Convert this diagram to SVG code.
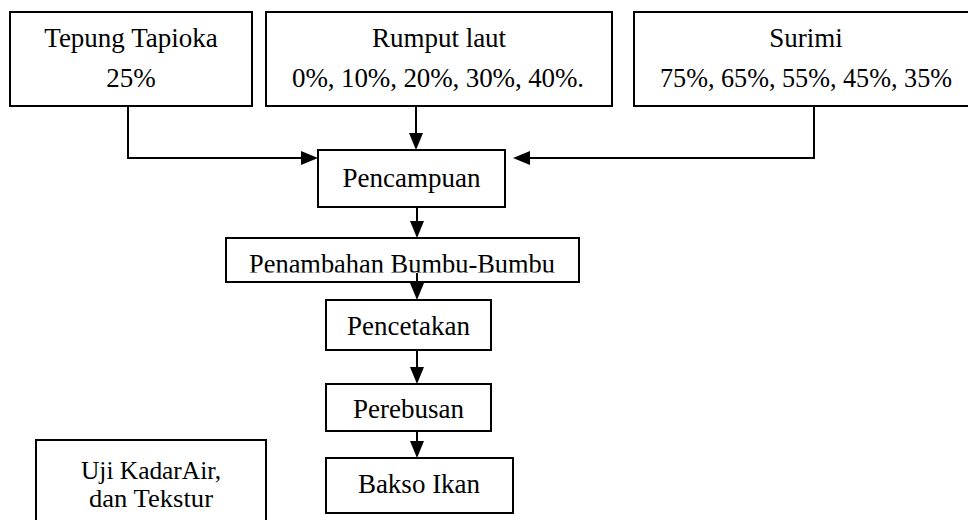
<svg xmlns="http://www.w3.org/2000/svg" width="968" height="520" viewBox="0 0 968 520">
<style>
.box{fill:#fff;stroke:#000;stroke-width:2}
.t{font-family:"Liberation Serif","Times New Roman",serif;font-size:27px;fill:#000;text-anchor:middle}
.s{font-size:25px}
.c{fill:none;stroke:#000;stroke-width:2}
</style>
<defs>
<marker id="ah" markerUnits="userSpaceOnUse" markerWidth="17" markerHeight="14" refX="13" refY="7" orient="auto">
<path d="M0,0 L17,7 L0,14 z" fill="#000"/>
</marker>
<clipPath id="clipPen"><rect x="226" y="238" width="353" height="34.5"/></clipPath>
</defs>
<rect width="968" height="520" fill="#fff"/>
<g id="tepung">
<rect class="box" x="10" y="12" width="242" height="94"/>
<text class="t" x="131" y="47">Tepung Tapioka</text>
<text class="t" x="131" y="87">25%</text>
</g>
<g id="rumput">
<rect class="box" x="266" y="12" width="346" height="94"/>
<text class="t" x="439" y="47">Rumput laut</text>
<text class="t" x="438" y="87" textLength="292" lengthAdjust="spacing">0%, 10%, 20%, 30%, 40%.</text>
</g>
<g id="surimi">
<rect class="box" x="634" y="12" width="344" height="94"/>
<text class="t" x="806" y="47">Surimi</text>
<text class="t" x="806" y="87" textLength="292" lengthAdjust="spacingAndGlyphs">75%, 65%, 55%, 45%, 35%</text>
</g>
<g id="pencampuan">
<rect class="box" x="318" y="150" width="187" height="57"/>
<text class="t" x="411.5" y="187">Pencampuan</text>
</g>
<g id="penambahan">
<rect class="box" x="226" y="238" width="353" height="44"/>
<text class="t" x="402" y="273" textLength="306" lengthAdjust="spacingAndGlyphs" clip-path="url(#clipPen)">Penambahan Bumbu-Bumbu</text>
</g>
<g id="pencetakan">
<rect class="box" x="326" y="300" width="165" height="50"/>
<text class="t" x="408.5" y="335">Pencetakan</text>
</g>
<g id="perebusan">
<rect class="box" x="326" y="384" width="165" height="47"/>
<text class="t" x="408.5" y="418">Perebusan</text>
</g>
<g id="bakso">
<rect class="box" x="326" y="458" width="187" height="55"/>
<text class="t" x="419" y="493">Bakso Ikan</text>
</g>
<g id="uji">
<rect class="box" x="36" y="440" width="230" height="90"/>
<text class="t s" x="151" y="479" textLength="140" lengthAdjust="spacingAndGlyphs">Uji KadarAir,</text>
<text class="t s" x="151" y="507" textLength="124" lengthAdjust="spacingAndGlyphs">dan Tekstur</text>
</g>
<g id="connectors">
<path class="c" d="M128 106 V158 H314" marker-end="url(#ah)"/>
<path class="c" d="M416 106 V146" marker-end="url(#ah)"/>
<path class="c" d="M814 106 V158 H517" marker-end="url(#ah)"/>
<path class="c" d="M417 207 V234" marker-end="url(#ah)"/>
<path class="c" d="M417 273 V296" marker-end="url(#ah)"/>
<path class="c" d="M417 350 V380" marker-end="url(#ah)"/>
<path class="c" d="M417 431 V454" marker-end="url(#ah)"/>
</g>
</svg>
